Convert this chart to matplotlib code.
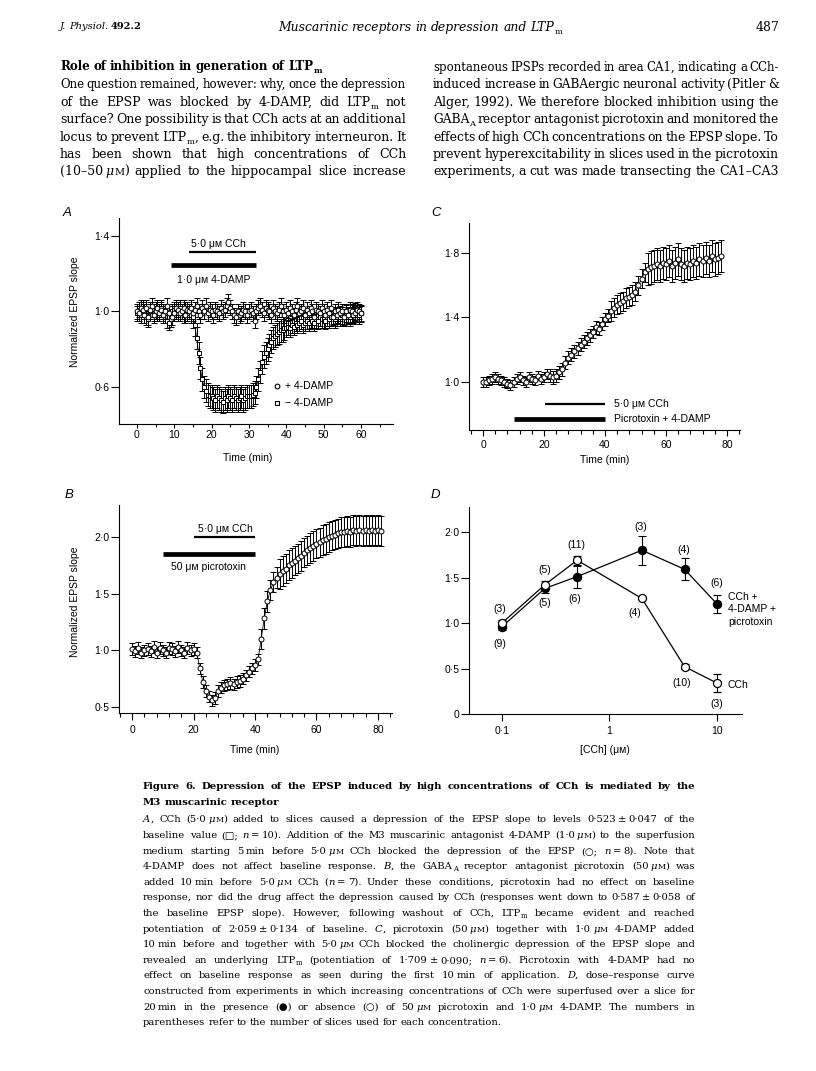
import re
import numpy as np
import matplotlib
matplotlib.use('Agg')
import matplotlib.pyplot as plt
from matplotlib.lines import Line2D
from matplotlib.ticker import FixedLocator, MultipleLocator, NullLocator, FuncFormatter

W, H = 816, 1071
SERIF = ['DejaVu Serif', 'DejaVu Sans']
SANS = ['Liberation Sans', 'DejaVu Sans']
plt.rcParams['font.family'] = SANS
plt.rcParams['axes.linewidth'] = 0.8

# ---------------- data ----------------
# panel A: normalized EPSP slope, sampled every 0.5 min
t_a = np.arange(0, 60.5, 0.5)
a_plus = [1.00, 0.99, 1.02, 1.01, 0.98, 1.02, 0.97, 1.01, 1.03, 0.98,
          1.00, 1.02, 0.99, 1.01, 0.98, 1.00, 1.03, 0.99, 0.96, 0.97,
          0.99, 1.02, 1.01, 0.99, 1.00, 1.02, 0.98, 1.01, 1.00, 1.02,
          0.99, 1.01, 1.03, 1.00, 0.98, 1.02, 1.00, 1.03, 0.99, 1.01,
          1.00, 0.98, 1.01, 1.00, 0.99, 1.02, 1.00, 1.01, 1.03, 1.05,
          1.02, 1.00, 0.98, 0.97, 1.00, 0.98, 0.99, 1.01, 1.00, 0.98,
          1.00, 1.01, 0.99, 0.95, 1.00, 1.02, 1.03, 1.01, 0.99, 1.02,
          1.01, 1.00, 0.98, 1.02, 1.00, 0.99, 1.01, 1.03, 1.00, 0.98,
          1.01, 0.99, 1.02, 1.00, 0.98, 1.01, 1.03, 0.99, 1.00, 1.02,
          0.98, 1.01, 0.99, 1.02, 1.00, 0.97, 1.01, 1.00, 0.99, 1.02,
          1.00, 0.98, 1.01, 0.99, 1.02, 0.97, 1.00, 0.98, 1.01, 0.99,
          1.00, 0.97, 1.00, 0.98, 1.01, 1.00, 0.98, 0.99, 1.01, 1.00,
          0.99]
a_minus = [0.99, 1.01, 0.98, 1.02, 1.00, 0.97, 0.96, 1.00, 1.01, 0.99,
           1.01, 0.99, 1.00, 1.02, 1.00, 0.99, 0.95, 0.94, 0.97, 1.00,
           1.01, 1.00, 0.99, 1.02, 1.00, 0.98, 1.01, 0.99, 1.00, 0.98,
           0.97, 0.93, 0.86, 0.78, 0.70, 0.64, 0.60, 0.58, 0.56, 0.55,
           0.55, 0.54, 0.53, 0.55, 0.54, 0.53, 0.52, 0.54, 0.53, 0.55,
           0.54, 0.53, 0.55, 0.54, 0.53, 0.54, 0.55, 0.53, 0.54, 0.55,
           0.55, 0.55, 0.56, 0.57, 0.60, 0.64, 0.68, 0.73, 0.76, 0.78,
           0.80, 0.82, 0.84, 0.86, 0.87, 0.88, 0.89, 0.90, 0.90, 0.91,
           0.91, 0.92, 0.91, 0.93, 0.92, 0.94, 0.93, 0.94, 0.95, 0.93,
           0.94, 0.95, 0.94, 0.96, 0.95, 0.94, 0.96, 0.95, 0.97, 0.96,
           0.96, 0.95, 0.97, 0.96, 0.97, 0.98, 0.96, 0.97, 0.98, 0.97,
           0.98, 0.97, 0.99, 0.98, 0.97, 0.99, 0.98, 1.00, 0.99, 0.98,
           0.99]
err_a_plus = [0.04] * 121
err_a_minus = [0.04] * 30 + [0.06] * 50 + [0.045] * 41
cch_a = (14, 32)
damp_a = (9, 32)
legend_a = ['+ 4-DAMP', '\u2212 4-DAMP']

# panel B: picrotoxin, sampled every 1 min
t_b = np.arange(0, 82)
b_pic = [1.01, 0.99, 1.02, 0.98, 1.00, 1.01, 0.99, 1.03, 0.98, 1.02,
         1.00, 0.98, 1.02, 1.01, 0.99, 1.03, 1.00, 0.98, 1.02, 1.00,
         1.01, 0.98, 0.84, 0.72, 0.64, 0.59, 0.56, 0.58, 0.64, 0.67,
         0.69, 0.70, 0.71, 0.70, 0.72, 0.73, 0.75, 0.78, 0.81, 0.84,
         0.87, 0.92, 1.10, 1.28, 1.43, 1.53, 1.60, 1.64, 1.67, 1.70,
         1.72, 1.75, 1.77, 1.79, 1.81, 1.83, 1.86, 1.88, 1.90, 1.92,
         1.94, 1.95, 1.97, 1.98, 2.00, 2.01, 2.02, 2.03, 2.04, 2.04,
         2.05, 2.04, 2.06, 2.05, 2.06, 2.05, 2.06, 2.05, 2.06, 2.05,
         2.06, 2.05]
err_b = [0.05] * 42 + [0.09] * 6 + [0.13] * 34
cch_b = (20, 40)
pic_b = (10, 40)

# panel C: picrotoxin + 4-DAMP, sampled every 1 min
t_c = np.arange(0, 79)
c_pic = [1.00, 1.00, 1.01, 1.02, 1.03, 1.02, 1.01, 1.00, 0.99, 0.98,
         1.00, 1.02, 1.03, 1.01, 1.00, 1.03, 1.02, 1.01, 1.04, 1.02,
         1.03, 1.05, 1.04, 1.03, 1.04, 1.06, 1.08, 1.12, 1.15, 1.17,
         1.19, 1.21, 1.23, 1.25, 1.27, 1.29, 1.31, 1.34, 1.33, 1.36,
         1.39, 1.41, 1.44, 1.46, 1.48, 1.49, 1.50, 1.52, 1.53, 1.54,
         1.56, 1.60, 1.64, 1.68, 1.70, 1.71, 1.72, 1.73, 1.72, 1.74,
         1.73, 1.75, 1.72, 1.74, 1.76, 1.73, 1.72, 1.74, 1.73, 1.75,
         1.74, 1.76, 1.75, 1.77, 1.75, 1.78, 1.76, 1.77, 1.78]
err_c = [0.03] * 22 + [0.04] * 20 + [0.06] * 12 + [0.1] * 25
cch_c = (20.3, 40)
pic_c = (10.2, 40)

# panel D: dose-response
conc = [0.1, 0.25, 0.5, 2, 5, 10]
d_pic = [0.96, 1.38, 1.51, 1.80, 1.59, 1.21]
d_pic_err = [0.04, 0.05, 0.12, 0.16, 0.12, 0.10]
d_cch = [1.00, 1.42, 1.69, 1.27, 0.52, 0.34]
d_cch_err = [0.03, 0.04, 0.05, 0.0, 0.03, 0.10]
n_pic = ['(9)', '(5)', '(6)', '(3)', '(4)', '(6)']
n_cch = ['(3)', '(5)', '(11)', '(4)', '(10)', '(3)']

# ---------------- page text ----------------
header_left = "{i:J.} {i:Physiol.}~{b:492.2}"
header_title = "Muscarinic receptors in depression and LTP{s:m}"
heading = "Role of inhibition in generation of LTP{s:m}"
left_col = [
    "One question remained, however: why, once the depression",
    "of the EPSP was blocked by 4-DAMP, did LTP{s:m} not",
    "surface? One possibility is that CCh acts at an additional",
    "locus to prevent LTP{s:m}, e.g. the inhibitory interneuron. It",
    "has been shown that high concentrations of CCh",
    "(10\u201350~{i:\u03bc}{c:M}) applied to the hippocampal slice increase",
]
right_col = [
    "spontaneous IPSPs recorded in area CA1, indicating a CCh-",
    "induced increase in GABAergic neuronal activity (Pitler &",
    "Alger, 1992). We therefore blocked inhibition using the",
    "GABA{s:A} receptor antagonist picrotoxin and monitored the",
    "effects of high CCh concentrations on the EPSP slope. To",
    "prevent hyperexcitability in slices used in the picrotoxin",
    "experiments, a cut was made transecting the CA1\u2013CA3",
]
caption_title = [
    "Figure 6. Depression of the EPSP induced by high concentrations of CCh is mediated by the",
    "M3 muscarinic receptor",
]
caption = [
    "{i:A}, CCh (5\u00b70~{i:\u03bc}{c:M}) added to slices caused a depression of the EPSP slope to levels 0\u00b7523~\u00b1~0\u00b7047 of the",
    "baseline value (\u25a1; {i:n}~=~10). Addition of the M3 muscarinic antagonist 4-DAMP (1\u00b70~{i:\u03bc}{c:M}) to the superfusion",
    "medium starting 5~min before 5\u00b70~{i:\u03bc}{c:M} CCh blocked the depression of the EPSP (\u25cb; {i:n}~=~8). Note that",
    "4-DAMP does not affect baseline response. {i:B}, the GABA{s:A} receptor antagonist picrotoxin (50~{i:\u03bc}{c:M}) was",
    "added 10~min before 5\u00b70~{i:\u03bc}{c:M} CCh ({i:n}~=~7). Under these conditions, picrotoxin had no effect on baseline",
    "response, nor did the drug affect the depression caused by CCh (responses went down to 0\u00b7587~\u00b1~0\u00b7058 of",
    "the baseline EPSP slope). However, following washout of CCh, LTP{s:m} became evident and reached",
    "potentiation of 2\u00b7059~\u00b1~0\u00b7134 of baseline. {i:C}, picrotoxin (50~{i:\u03bc}{c:M}) together with 1\u00b70~{i:\u03bc}{c:M} 4-DAMP added",
    "10~min before and together with 5\u00b70~{i:\u03bc}{c:M} CCh blocked the cholinergic depression of the EPSP slope and",
    "revealed an underlying LTP{s:m} (potentiation of 1\u00b7709~\u00b1~0\u00b7090; {i:n}~=~6). Picrotoxin with 4-DAMP had no",
    "effect on baseline response as seen during the first 10~min of application. {i:D}, dose\u2013response curve",
    "constructed from experiments in which increasing concentrations of CCh were superfused over a slice for",
    "20~min in the presence (\u25cf) or absence (\u25cb) of 50~{i:\u03bc}{c:M} picrotoxin and 1\u00b70~{i:\u03bc}{c:M} 4-DAMP. The numbers in",
    "parentheses refer to the number of slices used for each concentration.",
]

fig = plt.figure(figsize=(W / 100, H / 100), dpi=100)
fig.patch.set_facecolor('white')
renderer = fig.canvas.get_renderer()

SEG = re.compile(r'\{([icsb]):([^}]*)\}')
SPACE = 0.3  # word space in em


def split_word(word):
    out, pos = [], 0
    for m in SEG.finditer(word):
        if m.start() > pos:
            out.append(('n', word[pos:m.start()]))
        out.append((m.group(1), m.group(2)))
        pos = m.end()
    if pos < len(word):
        out.append(('n', word[pos:]))
    res = []
    for kind, txt in out:
        for i, piece in enumerate(txt.split('~')):
            if i:
                res.append(('~', ''))
            if piece:
                res.append((kind, piece))
    return res


def build_words(line, size, weight, style):
    em = size * 100 / 72
    words = []
    for word in line.split(' '):
        parts, wsum = [], 0.0
        for kind, txt in split_word(word):
            if kind == '~':
                wsum += 0.22 * em
                continue
            fs, wt, st, dy = size, weight, style, 0.0
            if kind == 'i':
                st = 'italic'
            elif kind == 'b':
                wt = 'bold'
            elif kind == 's':
                fs, st, dy = size * 0.68, 'normal', round(0.22 * em)
            elif kind == 'c':
                fs = size * 0.78
            art = fig.text(0, 0, txt, fontsize=fs, family=SERIF, weight=wt,
                           style=st, ha='left', va='baseline')
            parts.append((art, wsum, dy))
            wsum += art.get_window_extent(renderer).width
        words.append((parts, wsum))
    return words, em


def drop(words):
    for parts, _ in words:
        for art, _, _ in parts:
            art.remove()


def natural_width(line, size, weight='normal', style='normal'):
    words, em = build_words(line, size, weight, style)
    drop(words)
    return sum(w for _, w in words) + SPACE * em * (len(words) - 1)


def fit_size(line, target, weight='normal', style='normal'):
    return 10 * target / natural_width(line, 10, weight, style)


def text_line(line, x0, x1, yb, size, weight='normal', style='normal', align='justify'):
    # place words one by one so the line can be justified like the printed page
    yb = round(yb)
    words, em = build_words(line, size, weight, style)
    total = sum(w for _, w in words)
    n = len(words) - 1
    if align == 'justify' and n > 0 and (x1 - x0 - total) / n < 0.15 * em:
        drop(words)
        size *= (x1 - x0 - 0.18 * em * n) / total
        words, em = build_words(line, size, weight, style)
        total = sum(w for _, w in words)
    gap = SPACE * em
    if align == 'justify' and n > 0:
        gap = (x1 - x0 - total) / n
    x = x0
    if align == 'center':
        x = (x0 + x1) / 2 - (total + gap * n) / 2
    for parts, wsum in words:
        for art, off, dy in parts:
            art.set_position(((x + off) / W, 1 - (yb + dy) / H))
        x += wsum + gap


def ftext(x, y, s, **kw):
    return fig.text(x / W, 1 - y / H, s, **kw)


# font sizes matched to measured widths on the page
head_size = fit_size(header_left, 82)
title_size = fit_size(header_title, 285, style='italic')
heading_size = fit_size(heading, 262, weight='bold')
body_size = fit_size('concentrations', 95)
cap_title_size = fit_size(caption_title[1], 136, weight='bold')
cap_size = fit_size(caption[-1], 360)

# running head
text_line(header_left, 60, 300, 29, head_size, align='left')
text_line(header_title, 60, 780, 31, title_size, style='italic', align='center')
ftext(779, 31, '487', ha='right', va='baseline', fontsize=title_size, family=SERIF)

# body text in two columns
text_line(heading, 60, 406, 70.5, heading_size, weight='bold', align='left')
for k, line in enumerate(left_col, start=1):
    text_line(line, 60, 406, 71 + 17.4 * k, body_size)
for k, line in enumerate(right_col):
    text_line(line, 433, 779, 71 + 17.4 * k, body_size)

# caption
text_line(caption_title[0], 143, 695, 789, cap_title_size, weight='bold')
text_line(caption_title[1], 143, 695, 805, cap_title_size, weight='bold', align='left')
for k, line in enumerate(caption):
    text_line(line, 143, 695, 822.5 + 15.6 * k, cap_size,
              align='left' if k == len(caption) - 1 else 'justify')


# ---------------- panels ----------------
def add_axes_px(l, t, r, b):
    ax = fig.add_axes([l / W, 1 - b / H, (r - l) / W, (b - t) / H])
    for s in ('top', 'right'):
        ax.spines[s].set_visible(False)
    ax.patch.set_alpha(0)
    ax.tick_params(axis='y', direction='out', labelsize=7.5, width=0.8, length=5.5, pad=1.5)
    return ax


dot1 = FuncFormatter(lambda v, p: f'{v:.1f}'.replace('.', '\u00b7'))
mk = dict(color='k', mec='k', mfc='white', mew=0.7, lw=0.6, elinewidth=0.7,
          capsize=2.2, capthick=0.7)

# A
ax = add_axes_px(119, 218, 393, 424)
ax.set_xlim(-4.8, 68.6)
ax.set_ylim(0.404, 1.495)
ax.errorbar(t_a, a_minus, yerr=err_a_minus, fmt='s-', ms=3.0, **mk)
ax.errorbar(t_a, a_plus, yerr=err_a_plus, fmt='o-', ms=3.4, **mk)
ax.plot(cch_a, [1.315, 1.315], color='k', lw=1.6, solid_capstyle='butt')
ax.plot(damp_a, [1.246, 1.246], color='k', lw=3.4, solid_capstyle='butt')
ax.yaxis.set_major_locator(FixedLocator([0.6, 1.0, 1.4]))
ax.yaxis.set_major_formatter(dot1)
ax.xaxis.set_major_locator(MultipleLocator(10))
ax.xaxis.set_minor_locator(MultipleLocator(5))
ax.tick_params(axis='x', which='major', direction='out', labelsize=7.5, width=0.8, length=3, pad=1)
ax.tick_params(axis='x', which='minor', direction='out', width=0.8, length=2)
ftext(218, 244, '5\u00b70 \u03bc\u1d0d CCh', ha='center', va='center', fontsize=7.5)
ftext(214, 280, '1\u00b70 \u03bc\u1d0d 4-DAMP', ha='center', va='center', fontsize=7.5)
for m, lab, y in zip(['o', 's'], legend_a, [386, 403]):
    fig.add_artist(Line2D([277 / W], [1 - y / H], marker=m, ms=3.4, mfc='white',
                          mec='k', mew=0.8, ls='none'))
    ftext(285, y, lab, va='center', fontsize=7.5)
ftext(75, 312, 'Normalized EPSP slope', rotation=90, ha='center', va='center', fontsize=7.5)
ftext(248, 458, 'Time (min)', ha='center', va='center', fontsize=7.5)
ftext(63, 213, 'A', style='italic', fontsize=9.5, va='center')

# B
ax = add_axes_px(119, 505, 392, 713)
ax.set_xlim(-4.3, 84.6)
ax.set_ylim(0.447, 2.28)
ax.errorbar(t_b, b_pic, yerr=err_b, fmt='o-', ms=3.6, **mk)
ax.plot(cch_b, [1.995, 1.995], color='k', lw=1.6, solid_capstyle='butt')
ax.plot(pic_b, [1.85, 1.85], color='k', lw=3.4, solid_capstyle='butt')
ax.yaxis.set_major_locator(FixedLocator([0.5, 1.0, 1.5, 2.0]))
ax.yaxis.set_major_formatter(dot1)
ax.xaxis.set_major_locator(MultipleLocator(20))
ax.xaxis.set_minor_locator(MultipleLocator(4))
ax.tick_params(axis='x', which='major', direction='out', labelsize=7.5, width=0.8, length=5, pad=3.5)
ax.tick_params(axis='x', which='minor', direction='out', width=0.8, length=3)
ftext(225, 529, '5\u00b70 \u03bc\u1d0d CCh', ha='center', va='center', fontsize=7.5)
ftext(208, 567, '50 \u03bc\u1d0d picrotoxin', ha='center', va='center', fontsize=7.5)
ftext(75, 602, 'Normalized EPSP slope', rotation=90, ha='center', va='center', fontsize=7.5)
ftext(255, 750, 'Time (min)', ha='center', va='center', fontsize=7.5)
ftext(65, 495, 'B', style='italic', fontsize=9.5, va='center')

# C
ax = add_axes_px(469, 223, 740, 430)
ax.set_xlim(-4.6, 84.3)
ax.set_ylim(0.702, 1.986)
ax.errorbar(t_c, c_pic, yerr=err_c, fmt='o-', ms=3.6, **mk)
ax.plot(cch_c, [0.864, 0.864], color='k', lw=1.6, solid_capstyle='butt')
ax.plot(pic_c, [0.77, 0.77], color='k', lw=3.4, solid_capstyle='butt')
ax.yaxis.set_major_locator(FixedLocator([1.0, 1.4, 1.8]))
ax.yaxis.set_major_formatter(dot1)
ax.xaxis.set_major_locator(MultipleLocator(20))
ax.xaxis.set_minor_locator(MultipleLocator(4))
ax.tick_params(axis='x', which='major', direction='out', labelsize=7.5, width=0.8, length=4.5, pad=3)
ax.tick_params(axis='x', which='minor', direction='out', width=0.8, length=3)
ftext(614, 404, '5\u00b70 \u03bc\u1d0d CCh', va='center', fontsize=7.5)
ftext(614, 419, 'Picrotoxin + 4-DAMP', va='center', fontsize=7.5)
ftext(605, 460, 'Time (min)', ha='center', va='center', fontsize=7.5)
ftext(431, 213, 'C', style='italic', fontsize=9.5, va='center')

# D
ax = add_axes_px(469, 507, 742, 714)
ax.set_xscale('log')
ax.set_xlim(0.0493, 17.1)
ax.set_ylim(0, 2.275)
ax.errorbar(conc, d_pic, yerr=d_pic_err, fmt='o-', ms=5.8, color='k', mfc='k', mec='k',
            lw=0.9, elinewidth=0.8, capsize=3, capthick=0.8)
ax.errorbar(conc, d_cch, yerr=d_cch_err, fmt='o-', ms=5.8, color='k', mfc='white', mec='k',
            mew=0.9, lw=0.9, elinewidth=0.8, capsize=3, capthick=0.8)
pic_off = [(-2, 17), (0, 15), (-2, 22), (-1, -23), (-1, -19), (0, -21)]
cch_off = [(-2, -14), (0, -15), (-1, -15), (-7, 15), (-3, 16), (0, 21)]
for xs, ys, labels, offs in [(conc, d_pic, n_pic, pic_off), (conc, d_cch, n_cch, cch_off)]:
    for xv, yv, lab, (dx, dy) in zip(xs, ys, labels, offs):
        ax.annotate(lab, (xv, yv), xytext=(dx * 0.72, -dy * 0.72), textcoords='offset points',
                    ha='center', va='center', fontsize=7.5)
ax.yaxis.set_major_locator(FixedLocator([0, 0.5, 1.0, 1.5, 2.0]))
ax.yaxis.set_major_formatter(FuncFormatter(lambda v, p: '0' if v == 0 else f'{v:.1f}'.replace('.', '\u00b7')))
ax.xaxis.set_major_locator(FixedLocator([0.1, 1, 10]))
ax.xaxis.set_major_formatter(FuncFormatter(lambda v, p: {0.1: '0\u00b71', 1: '1', 10: '10'}.get(round(v, 3), '')))
ax.xaxis.set_minor_locator(NullLocator())
ax.tick_params(axis='x', which='major', direction='out', labelsize=7.5, width=0.8, length=5, pad=4)
ftext(728, 609.5, 'CCh +\n4-DAMP +\npicrotoxin', va='center', fontsize=7.5, linespacing=1.3)
ftext(728, 685, 'CCh', va='center', fontsize=7.5)
ftext(605, 750, '[CCh] (\u03bc\u1d0d)', ha='center', va='center', fontsize=7.5)
ftext(431, 495, 'D', style='italic', fontsize=9.5, va='center')

fig.savefig('out.png', dpi=100, facecolor='white')
